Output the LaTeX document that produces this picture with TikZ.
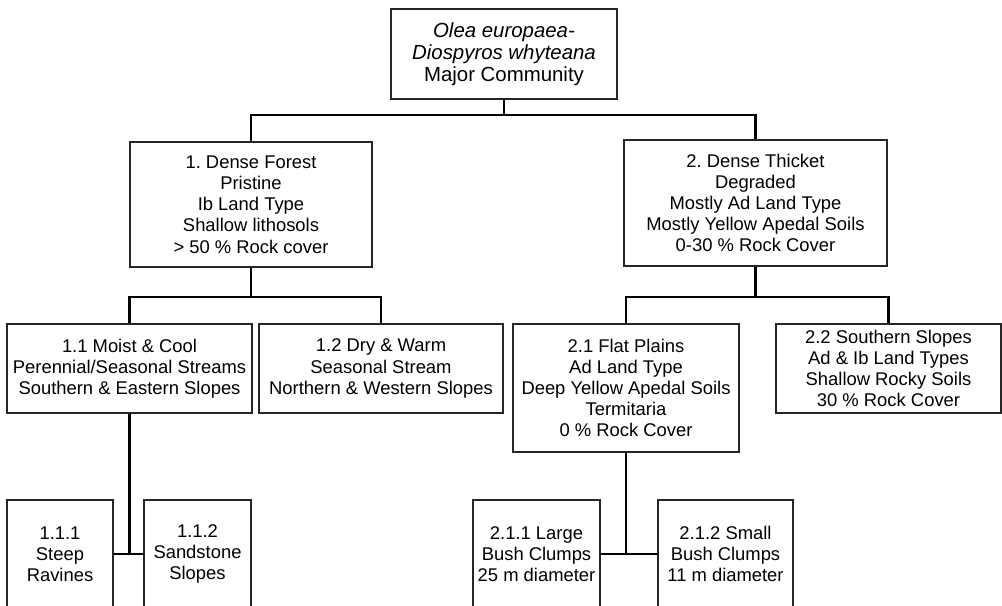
\documentclass[tikz,border=0pt]{standalone}
\usepackage{fontspec}
\setmainfont{Liberation Sans}
\frenchspacing
\begin{document}
\begin{tikzpicture}[x=0.75pt,y=-0.75pt,
  box/.style={draw=black!85,line width=0.9pt,fill=white,align=center,inner sep=0pt,
    font=\fontsize{13.8}{15.9}\selectfont},
  rootbox/.style={box,font=\fontsize{15.3}{16.7}\selectfont},
  conn/.style={draw=black,line width=2pt}]
\useasboundingbox (0,0) rectangle (1002,606);
\clip (0,0) rectangle (1002,606);
% nodes
\node[rootbox,minimum width=226*0.75pt,minimum height=90*0.75pt] (root) at (504,54)
  {\itshape Olea europaea-\\\itshape Diospyros whyteana\\Major Community};
\node[box,minimum width=242*0.75pt,minimum height=125*0.75pt] (b1) at (251,204.5)
  {1.\ Dense Forest\\Pristine\\Ib Land Type\\Shallow lithosols\\> 50 \% Rock cover};
\node[box,minimum width=263*0.75pt,minimum height=126*0.75pt] (b2) at (755.5,203)
  {2.\ Dense Thicket\\Degraded\\Mostly Ad Land Type\\Mostly Yellow Apedal Soils\\0-30 \% Rock Cover};
\node[box,minimum width=245*0.75pt,minimum height=89*0.75pt] (b11) at (129.5,368.5)
  {1.1 Moist \& Cool\\Perennial/Seasonal Streams\\Southern \& Eastern Slopes};
\node[box,minimum width=244*0.75pt,minimum height=89*0.75pt] (b12) at (381,368.5)
  {1.2 Dry \& Warm\\Seasonal Stream\\Northern \& Western Slopes};
\node[box,minimum width=226*0.75pt,minimum height=128*0.75pt] (b21) at (626,388)
  {2.1 Flat Plains\\Ad Land Type\\Deep Yellow Apedal Soils\\Termitaria\\0 \% Rock Cover};
\node[box,minimum width=225*0.75pt,minimum height=89*0.75pt] (b22) at (888.5,368.5)
  {2.2 Southern Slopes\\Ad \& Ib Land Types\\Shallow Rocky Soils\\30 \% Rock Cover};
\node[box,minimum width=106*0.75pt,minimum height=108*0.75pt] (b111) at (60,554)
  {1.1.1\\Steep\\Ravines};
\node[box,minimum width=107*0.75pt,minimum height=108*0.75pt] (b112) at (197.5,554)
  {1.1.2\\Sandstone\\Slopes};
\node[box,minimum width=127*0.75pt,minimum height=108*0.75pt] (b211) at (536.5,554)
  {2.1.1 Large\\Bush Clumps\\25 m diameter};
\node[box,minimum width=135*0.75pt,minimum height=108*0.75pt] (b212) at (725.5,554)
  {2.1.2 Small\\Bush Clumps\\11 m diameter};
% connectors
\draw[conn] (root.south) -- (root.south |- 0,115) coordinate (j0);
\draw[conn] (b1.north) |- (j0);
\draw[conn] (b2.north) |- (j0);
\draw[conn] (b1.south) -- (b1.south |- 0,297) coordinate (j1);
\draw[conn] (b11.north) |- (j1);
\draw[conn] (b12.north) |- (j1);
\draw[conn] (b2.south) -- (b2.south |- 0,297) coordinate (j2);
\draw[conn] (b21.north) |- (j2);
\draw[conn] (b22.north) |- (j2);
\draw[conn] (b111.east) -- (b112.west);
\draw[conn] (b11.south) -- (b11.south |- b111.east);
\draw[conn] (b211.east) -- (b212.west);
\draw[conn] (b21.south) -- (b21.south |- b211.east);
\end{tikzpicture}
\end{document}
